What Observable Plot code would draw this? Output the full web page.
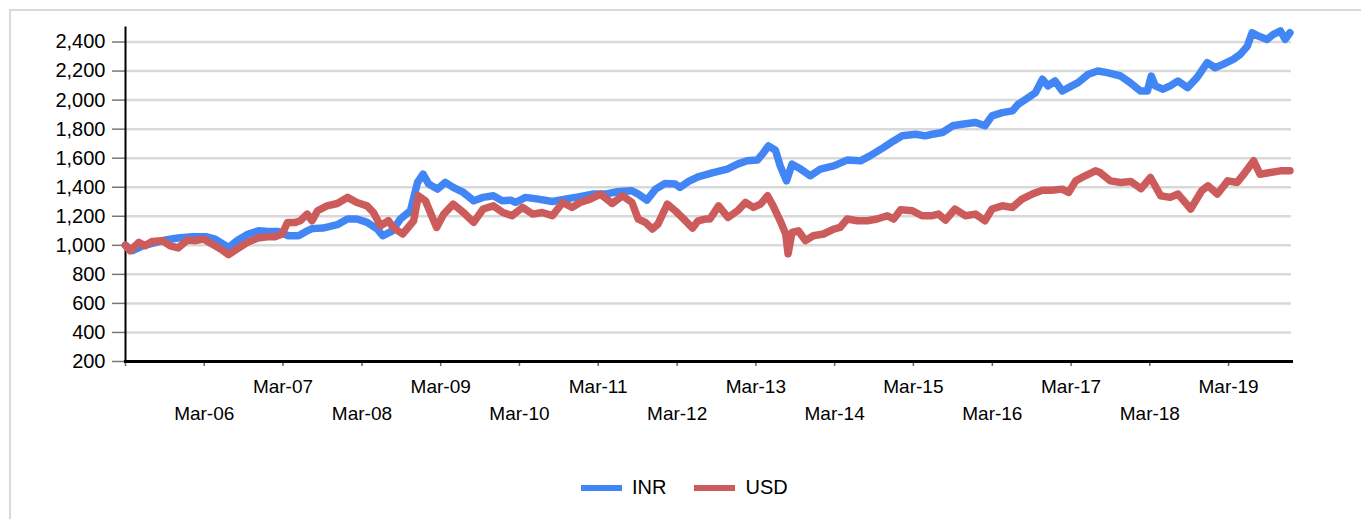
<!DOCTYPE html>
<html><head><meta charset="utf-8">
<script src="https://cdn.jsdelivr.net/npm/d3@7"></script>
<script src="https://cdn.jsdelivr.net/npm/@observablehq/plot@0.6"></script>
<style>
html,body{margin:0;padding:0;background:#fff;}
#wrap{position:relative;width:1361px;height:519px;overflow:hidden;font-family:"Liberation Sans",Arial,sans-serif;}
#frame{position:absolute;left:9px;top:9px;width:1420px;height:620px;border:2px solid #d9d9d9;box-sizing:border-box;}
#chart{position:absolute;left:0;top:0;}
#chart g[aria-label="y-axis tick label"]{font-size:20px;}
#legend{position:absolute;top:476px;left:581px;display:flex;align-items:center;font-size:20px;line-height:23px;color:#000;}
#legend .sw{width:41px;height:6px;margin-right:10px;}
#legend .it{display:flex;align-items:center;margin-right:28px;}
</style>
</head><body>
<div id="wrap"><div id="frame"></div><div id="chart"></div><div id="legend"></div></div>
<script>
// Series: decimal-year dates and index values
const inrYears = [2005.16,2005.25,2005.38,2005.50,2005.67,2005.83,2006.01,2006.18,2006.30,2006.47,2006.59,2006.72,2006.85,2006.97,2007.10,2007.23,2007.36,2007.47,2007.53,2007.67,2007.85,2007.98,2008.10,2008.23,2008.36,2008.43,2008.55,2008.65,2008.78,2008.87,2008.94,2009.01,2009.12,2009.22,2009.32,2009.45,2009.58,2009.70,2009.83,2009.94,2010.05,2010.11,2010.24,2010.40,2010.58,2010.74,2010.91,2011.09,2011.25,2011.42,2011.59,2011.67,2011.78,2011.89,2012.01,2012.14,2012.20,2012.31,2012.43,2012.52,2012.62,2012.80,2012.93,2013.05,2013.18,2013.26,2013.32,2013.41,2013.47,2013.55,2013.62,2013.73,2013.85,2013.98,2014.15,2014.32,2014.49,2014.61,2014.78,2014.91,2015.02,2015.19,2015.31,2015.40,2015.53,2015.66,2015.78,2015.95,2016.07,2016.16,2016.29,2016.42,2016.49,2016.62,2016.71,2016.80,2016.87,2016.96,2017.05,2017.13,2017.25,2017.38,2017.50,2017.62,2017.79,2017.91,2018.04,2018.13,2018.18,2018.23,2018.33,2018.42,2018.52,2018.64,2018.76,2018.89,2018.99,2019.09,2019.22,2019.31,2019.40,2019.46,2019.54,2019.65,2019.73,2019.82,2019.88,2019.94];
const inrValues = [1000,963,997,1013,1037,1050,1059,1059,1043,986,1037,1078,1100,1096,1096,1066,1066,1100,1115,1119,1142,1181,1181,1158,1112,1066,1100,1181,1238,1433,1490,1422,1387,1433,1399,1364,1307,1330,1341,1307,1311,1295,1330,1318,1302,1318,1334,1353,1353,1371,1376,1353,1311,1387,1426,1422,1399,1440,1472,1485,1501,1525,1559,1582,1587,1639,1685,1655,1547,1444,1559,1525,1479,1525,1547,1587,1582,1616,1673,1719,1754,1765,1754,1765,1777,1823,1834,1846,1823,1891,1914,1926,1971,2017,2051,2144,2098,2132,2063,2086,2120,2178,2200,2189,2166,2120,2063,2063,2166,2098,2075,2098,2132,2086,2155,2258,2223,2246,2281,2315,2372,2464,2441,2418,2453,2476,2418,2464];
const usdYears = [2005.16,2005.22,2005.33,2005.41,2005.50,2005.63,2005.73,2005.83,2005.95,2006.05,2006.15,2006.26,2006.37,2006.47,2006.58,2006.71,2006.84,2006.96,2007.06,2007.15,2007.22,2007.32,2007.38,2007.47,2007.53,2007.60,2007.72,2007.85,2007.98,2008.10,2008.23,2008.31,2008.40,2008.50,2008.56,2008.68,2008.75,2008.82,2008.88,2008.97,2009.03,2009.11,2009.20,2009.32,2009.45,2009.58,2009.70,2009.83,2009.95,2010.07,2010.20,2010.33,2010.45,2010.58,2010.71,2010.83,2010.93,2011.06,2011.19,2011.34,2011.47,2011.59,2011.67,2011.76,2011.85,2011.92,2012.04,2012.14,2012.27,2012.36,2012.43,2012.52,2012.58,2012.69,2012.81,2012.93,2013.03,2013.13,2013.22,2013.31,2013.38,2013.47,2013.54,2013.57,2013.62,2013.70,2013.79,2013.89,2014.02,2014.15,2014.23,2014.32,2014.45,2014.58,2014.70,2014.83,2014.91,2015.00,2015.15,2015.27,2015.40,2015.48,2015.57,2015.69,2015.82,2015.95,2016.07,2016.16,2016.29,2016.42,2016.54,2016.67,2016.80,2016.92,2017.05,2017.13,2017.22,2017.34,2017.47,2017.53,2017.66,2017.79,2017.92,2018.05,2018.17,2018.30,2018.42,2018.52,2018.68,2018.82,2018.90,2019.02,2019.15,2019.27,2019.37,2019.48,2019.56,2019.69,2019.82,2019.94];
const usdValues = [1000,963,1020,997,1027,1032,997,982,1037,1032,1043,1009,975,936,975,1020,1050,1059,1059,1078,1158,1158,1169,1215,1169,1238,1272,1288,1330,1295,1272,1226,1135,1169,1123,1078,1123,1169,1341,1307,1226,1123,1215,1284,1226,1158,1250,1272,1226,1204,1261,1215,1226,1204,1295,1261,1295,1318,1353,1288,1341,1295,1181,1158,1112,1146,1284,1238,1169,1119,1169,1181,1181,1272,1192,1238,1295,1261,1284,1341,1272,1169,1078,941,1089,1100,1032,1066,1078,1112,1123,1181,1169,1169,1181,1204,1181,1245,1238,1204,1204,1215,1174,1250,1204,1215,1169,1250,1272,1261,1318,1353,1380,1380,1387,1364,1444,1479,1513,1501,1444,1433,1440,1390,1467,1341,1330,1353,1250,1376,1410,1353,1444,1433,1501,1582,1490,1501,1513,1513];
const xTickYears = [2005,2006,2007,2008,2009,2010,2011,2012,2013,2014,2015,2016,2017,2018,2019];
const xTickLabels = ["","Mar-06","Mar-07","Mar-08","Mar-09","Mar-10","Mar-11","Mar-12","Mar-13","Mar-14","Mar-15","Mar-16","Mar-17","Mar-18","Mar-19"];
const yTicks = [200,400,600,800,1000,1200,1400,1600,1800,2000,2200,2400];
const seriesNames = ["INR","USD"];
const seriesColors = ["#4285F4","#CC5B5B"];

const toDate = y => { const f = Math.floor(y); return new Date(Date.UTC(f,0,1) + (y - f) * 365.25 * 864e5); };
const inr = inrYears.map((y,i) => ({date: toDate(y), value: inrValues[i]}));
const usd = usdYears.map((y,i) => ({date: toDate(y), value: usdValues[i]}));
const marchTicks = xTickYears.map(y => new Date(Date.UTC(y,2,1)));
const labelOf = new Map(marchTicks.map((d,i) => [+d, xTickLabels[i]]));
const upperTicks = marchTicks.filter((d,i) => xTickYears[i] % 2 === 1);
const lowerTicks = marchTicks.filter((d,i) => xTickYears[i] % 2 === 0 && xTickLabels[i]);

const chart = Plot.plot({
  width: 1361, height: 440,
  marginLeft: 125, marginRight: 70, marginTop: 27, marginBottom: 79,
  style: {fontSize: "19px", fontFamily: "'Liberation Sans', Arial, sans-serif", color: "#000", background: "transparent", overflow: "visible"},
  x: {type: "utc", domain: [toDate(2005.1616), toDate(2019.96)]},
  y: {domain: [200, 2500]},
  marks: [
    Plot.gridY({ticks: yTicks, stroke: "#d9d9d9", strokeOpacity: 1, strokeWidth: 2.5}),
    Plot.axisY({ticks: yTicks, tickSize: 13, tickPadding: 7, tickFormat: d3.format(","), label: null, stroke: "#777", strokeWidth: 1.5}),
    Plot.axisX({ticks: marchTicks, tickSize: 5, tickFormat: () => "", label: null, stroke: "#666", strokeWidth: 1.5}),
    Plot.axisX({ticks: upperTicks, tickSize: 0, tickPadding: 18, tickFormat: d => labelOf.get(+d), label: null}),
    Plot.axisX({ticks: lowerTicks, tickSize: 0, tickPadding: 45, tickFormat: d => labelOf.get(+d), label: null}),
    Plot.frame({anchor: "left", stroke: "#000", strokeWidth: 2}),
    Plot.frame({anchor: "bottom", stroke: "#000", strokeWidth: 3}),
    Plot.line(inr, {x: "date", y: "value", stroke: seriesColors[0], strokeWidth: 7.5, strokeLinejoin: "round", strokeLinecap: "round"}),
    Plot.line(usd, {x: "date", y: "value", stroke: seriesColors[1], strokeWidth: 7.5, strokeLinejoin: "round", strokeLinecap: "round"})
  ]
});
document.getElementById("chart").appendChild(chart);

const legend = document.getElementById("legend");
seriesNames.forEach((n,i) => {
  const it = document.createElement("div"); it.className = "it";
  const sw = document.createElement("div"); sw.className = "sw"; sw.style.background = seriesColors[i];
  const t = document.createElement("span"); t.textContent = n;
  it.appendChild(sw); it.appendChild(t); legend.appendChild(it);
});
</script>
</body></html>
